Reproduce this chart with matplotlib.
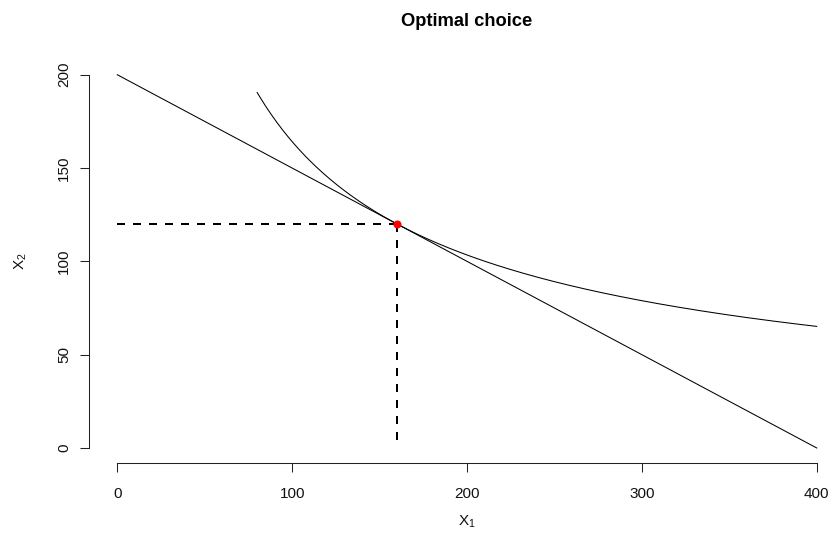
import numpy as np
import matplotlib
matplotlib.use("Agg")
import matplotlib.pyplot as plt

plt.rcParams["font.family"] = ["Liberation Sans", "DejaVu Sans"]
plt.rcParams["mathtext.fontset"] = "custom"
plt.rcParams["mathtext.rm"] = "Liberation Sans"
plt.rcParams["mathtext.it"] = "Liberation Sans"

# Budget: income and prices
income = 400
price_x1 = 1
price_x2 = 2
# Cobb-Douglas exponent on good 1 (good 2 gets 1 - alpha)
alpha = 0.4

# Optimal bundle
opt_x1 = 160
opt_x2 = 120

# Indifference curve drawn over this range of good 1
curve_x1_min = 80
curve_x1_max = 400

x_ticks = [0, 100, 200, 300, 400]
y_ticks = [0, 50, 100, 150, 200]

W, H = 830, 540
fig = plt.figure(figsize=(W / 100, H / 100), dpi=100)

# Plot region in pixels (R-like 4% padding around data range)
left_px, right_px = 89.3, 844.7
top_px, bottom_px = 59.8, 462.9
ax = fig.add_axes([left_px / W, 1 - bottom_px / H,
                   (right_px - left_px) / W, (bottom_px - top_px) / H])
ax.set_xlim(-16, 416)
ax.set_ylim(-8, 208)

# Budget line
bx = np.array([0, income / price_x1])
by = (income - price_x1 * bx) / price_x2
ax.plot(bx, by, color="black", lw=0.75)

# Indifference curve through the optimum
utility = opt_x1 ** alpha * opt_x2 ** (1 - alpha)
cx = np.linspace(curve_x1_min, curve_x1_max, 400)
cy = (utility / cx ** alpha) ** (1 / (1 - alpha))
ax.plot(cx, cy, color="black", lw=0.75)

# Guide lines to the optimum
ax.plot([0, opt_x1], [opt_x2, opt_x2], color="black", lw=1.44,
        dashes=(4, 4))
ax.plot([opt_x1, opt_x1], [opt_x2, 0], color="black", lw=1.44,
        dashes=(4, 4))
ax.plot([opt_x1], [opt_x2], "o", color="red", markersize=5.8,
        markeredgewidth=0)

for s in ["top", "right"]:
    ax.spines[s].set_visible(False)
ax.spines["left"].set_bounds(0, 200)
ax.spines["bottom"].set_bounds(0, 400)
for s in ["left", "bottom"]:
    ax.spines[s].set_linewidth(0.75)
    ax.spines[s].set_color("#222222")

ax.set_xticks(x_ticks)
ax.set_yticks(y_ticks)
ax.set_xticklabels([str(v) for v in x_ticks])
ax.set_yticklabels([str(v) for v in y_ticks], rotation=90, va="center")
ax.tick_params(axis="both", direction="out", length=6.5, width=0.75,
               color="#222222", labelsize=11, labelcolor="#111111")
ax.tick_params(axis="x", pad=10.5)
ax.tick_params(axis="y", pad=6.5)

fig.text(((left_px + right_px) / 2) / W, 1 - 21 / H, "Optimal choice",
         ha="center", va="center", fontsize=13.2, fontweight="bold")
fig.text(((left_px + right_px) / 2) / W, 1 - 522 / H, r"$\mathregular{X_1}$",
         ha="center", va="center", fontsize=11, color="#111111")
fig.text(21 / W, 1 - ((top_px + bottom_px) / 2) / H, r"$\mathregular{X_2}$",
         ha="center", va="center", fontsize=11, rotation=90,
         color="#111111")

fig.savefig("out.png", dpi=100)
